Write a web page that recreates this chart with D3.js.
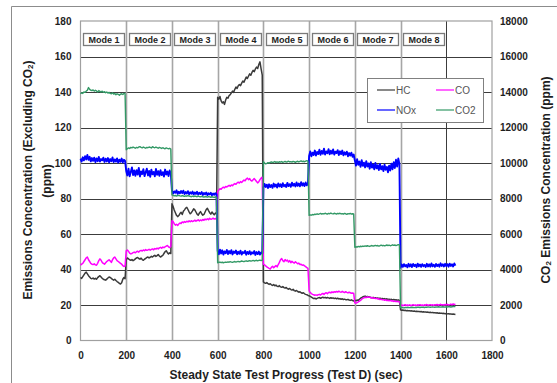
<!DOCTYPE html>
<html>
<head>
<meta charset="utf-8">
<script src="https://cdn.jsdelivr.net/npm/d3@7"></script>
<style>
  body { margin: 0; background: #fff; }
  svg { display: block; font-family: Arial, "Liberation Sans", sans-serif; }
</style>
</head>
<body>
<svg id="chart" width="557" height="383"></svg>
<script>
// Logged emissions, one sample every 5 s, Test D steady-state modes
const sampleStep = 5;

const modeNames = ["Mode 1", "Mode 2", "Mode 3", "Mode 4", "Mode 5", "Mode 6", "Mode 7", "Mode 8"];
const modeStarts = [0, 200, 400, 600, 800, 1000, 1200, 1400];

const xTicks = [0, 200, 400, 600, 800, 1000, 1200, 1400, 1600, 1800];
const leftTicks = [0, 20, 40, 60, 80, 100, 120, 140, 160, 180];
const rightTicks = [0, 2000, 4000, 6000, 8000, 10000, 12000, 14000, 16000, 18000];

// HC (ppm)
const hc = [
  35.5,35.0,36.0,37.0,38.0,38.5,37.5,36.5,35.8,35.0, 34.8,35.2,34.6,35.0,34.5,35.4,36.0,36.5,35.8,35.0,
  34.5,34.2,34.0,34.6,35.2,35.8,35.5,35.0,34.4,34.0, 34.5,33.8,33.2,32.8,32.2,31.8,32.5,34.5,35.5,34.8,
  45.5,46.5,46.0,45.5,45.2,45.6,45.0,45.4,46.0,46.5, 46.8,46.2,45.8,46.4,45.6,45.2,45.8,46.2,46.8,47.0,
  46.5,46.9,47.4,47.0,47.6,48.0,47.4,47.8,48.4,47.6, 47.0,47.5,48.0,49.0,50.0,50.6,49.5,48.8,49.4,49.0,
  77.0,75.5,73.5,72.0,70.5,69.8,70.4,71.5,72.2,71.0, 72.8,73.6,74.6,75.0,73.8,72.5,71.4,72.0,73.0,74.2,
  73.6,72.4,71.2,70.6,71.8,72.6,71.4,70.6,71.0,72.4, 73.8,74.5,73.2,72.0,71.2,72.4,71.6,70.8,71.8,71.4,
  137.0,136.0,137.5,135.0,133.8,134.5,133.0,135.5,137.0,136.5, 138.0,138.5,139.5,140.5,139.8,141.5,142.8,142.0,143.5,144.2,
  143.6,145.0,146.2,145.5,147.0,148.4,147.6,149.0,150.2,149.4, 151.0,152.2,151.5,153.0,154.0,153.2,155.5,157.0,153.0,149.5,
  33.0,32.5,32.2,32.6,32.0,31.6,32.0,31.4,31.0,31.5, 30.8,31.2,30.6,30.4,30.9,30.2,30.0,30.4,29.8,29.5,
  29.9,29.2,28.9,29.3,28.7,28.4,28.8,28.1,27.8,28.2, 27.6,27.2,27.5,26.9,26.6,26.9,26.3,26.0,25.8,25.4,
  25.2,24.8,24.4,24.0,23.6,23.8,23.4,23.7,24.0,24.2, 23.8,24.1,24.4,24.0,24.3,23.9,24.2,24.0,23.7,24.1,
  23.8,24.0,23.6,23.9,23.5,23.8,23.4,23.6,23.2,23.5, 23.1,23.3,23.0,22.9,23.2,22.8,22.6,22.9,22.5,22.3,
  22.6,22.4,22.8,22.6,23.2,23.8,24.2,24.6,24.8,25.0, 24.6,24.8,24.4,24.6,24.2,24.0,24.3,23.9,24.1,23.8,
  24.0,23.6,23.9,23.5,23.7,23.4,23.6,23.2,23.5,23.1, 23.3,23.0,23.2,22.9,23.1,22.8,23.0,22.7,22.9,22.6,
  17.3,17.0,17.2,16.9,17.0,16.8,16.9,16.7,16.8,16.6, 16.7,16.5,16.6,16.4,16.5,16.3,16.4,16.2,16.3,16.1,
  16.2,16.0,16.1,15.9,16.0,15.8,15.9,15.7,15.8,15.6, 15.7,15.5,15.6,15.4,15.5,15.3,15.4,15.2,15.3,15.1,
  15.2,15.0,15.1,14.9,15.0,14.8,14.9,14.8,14.7
];

// CO (ppm)
const co = [
  42.5,43.0,43.5,44.5,45.5,46.5,47.0,45.5,44.5,43.5, 43.0,42.8,43.2,42.6,42.4,43.5,45.0,46.0,45.2,44.0,
  43.4,43.0,43.8,44.5,45.0,45.5,44.8,44.0,45.5,46.5, 47.0,46.0,45.0,44.5,44.0,43.5,43.0,42.2,41.7,42.0,
  50.5,51.0,50.2,49.2,48.8,49.0,49.5,49.8,49.4,50.0, 50.3,49.8,50.5,50.8,50.4,51.0,50.6,51.2,50.8,51.0,
  51.4,50.9,51.3,51.6,51.1,51.8,51.5,52.0,51.6,52.2, 52.5,52.0,52.6,52.3,52.8,53.2,53.5,52.8,52.4,53.0,
  67.5,67.0,65.8,65.0,65.5,64.8,65.6,66.2,65.9,66.8, 66.4,67.0,66.6,67.2,66.8,67.4,66.9,67.5,67.0,67.3,
  67.8,67.2,67.6,68.0,67.4,67.9,67.5,68.2,67.7,68.4, 68.0,68.6,68.1,68.8,68.3,68.5,68.9,68.4,68.7,68.2,
  84.0,84.8,85.5,85.2,86.0,86.4,86.0,86.8,86.5,87.0, 87.4,86.9,87.6,87.2,88.0,88.4,88.0,88.8,89.2,88.7,
  89.5,89.0,89.8,90.4,90.0,91.0,91.5,90.6,91.2,90.2, 89.8,90.5,91.2,90.4,89.6,88.8,89.5,90.6,91.5,92.0,
  43.0,42.6,42.0,41.5,41.0,40.6,40.3,41.2,41.8,41.0, 41.6,42.2,41.5,42.8,44.0,45.5,46.2,45.0,44.4,45.6,
  44.8,45.3,44.2,45.0,43.8,44.6,44.0,43.6,44.4,43.8, 43.2,43.6,42.8,43.0,42.4,42.6,42.0,41.6,41.0,40.6,
  28.0,27.0,26.4,26.0,25.8,25.5,25.7,25.4,25.8,26.0, 25.6,26.2,26.5,26.0,26.6,26.9,26.4,27.0,27.2,26.8,
  27.4,27.0,27.5,27.2,27.6,27.3,27.8,27.4,27.2,27.7, 27.3,27.0,27.5,27.1,26.8,27.2,26.9,26.6,26.8,26.5,
  21.2,21.0,21.4,21.8,22.2,22.6,23.2,23.8,24.0,24.4, 24.2,24.6,24.3,24.5,24.0,24.2,23.8,23.9,23.6,23.8,
  23.4,23.5,23.1,23.3,22.9,23.0,22.7,22.9,22.5,22.7, 22.4,22.6,22.2,22.4,22.0,22.2,21.9,22.1,21.8,22.0,
  19.8,20.0,19.6,19.9,20.2,19.7,20.0,19.8,20.1,19.6, 19.9,20.2,19.8,20.0,19.7,20.1,19.9,20.2,19.8,20.0,
  19.7,20.1,19.9,20.3,19.8,20.0,20.2,19.9,20.1,19.8, 20.2,20.0,20.3,19.9,20.1,20.4,20.0,20.2,19.9,20.3,
  20.1,20.4,20.0,20.2,20.5,20.1,20.6,20.3,20.4
];

// NOx (ppm)
const nox = [
  102.5,100.8,103.2,101.5,103.8,102.0,104.5,101.8,103.5,100.9, 102.8,101.2,103.0,100.5,102.6,101.0,103.4,100.8,102.2,101.5,
  103.0,100.6,102.4,100.9,102.8,100.4,102.2,101.0,103.1,100.5, 102.0,100.8,102.6,100.2,101.9,100.7,102.5,100.3,101.8,101.2,
  95.5,93.0,96.8,92.5,95.0,97.5,93.2,95.8,92.8,96.0, 93.5,97.2,92.4,95.2,93.8,96.5,92.6,94.8,96.8,93.0,
  95.5,92.2,96.2,93.6,95.0,92.5,96.6,93.4,95.4,92.8, 96.0,93.2,94.8,92.4,96.3,93.5,95.2,92.7,95.8,94.0,
  84.5,82.8,84.0,83.2,84.6,82.6,83.8,82.9,84.2,83.0, 84.4,82.5,83.6,82.8,84.1,82.4,83.5,82.7,83.9,82.3,
  83.4,82.6,83.8,82.2,83.2,82.5,83.6,82.0,83.1,82.4, 83.4,81.9,82.9,82.3,83.2,81.8,82.8,82.1,83.0,82.4,
  50.5,48.6,51.2,49.0,50.8,48.4,50.2,49.2,51.0,48.7, 50.4,49.1,50.9,48.5,50.1,49.3,50.7,48.6,50.0,48.9,
  50.6,48.4,49.8,49.2,50.5,48.3,49.9,48.8,50.3,48.5, 49.7,49.0,50.4,48.2,49.8,48.7,50.1,48.4,49.6,49.0,
  86.0,88.2,86.5,87.8,85.9,88.0,86.4,87.6,86.0,88.4, 86.7,87.9,86.2,88.5,86.8,88.0,86.4,88.6,86.9,87.7,
  86.5,88.8,87.0,88.1,86.6,88.9,87.2,88.3,86.8,89.0, 87.1,88.4,86.9,89.2,87.3,88.6,87.0,89.0,87.4,88.8,
  104.0,106.5,103.8,105.8,104.5,107.0,104.2,106.2,105.0,107.5, 104.6,106.8,105.2,108.0,104.8,106.5,105.5,107.8,104.9,106.9,
  105.3,107.6,104.7,106.4,105.6,107.2,104.5,106.6,105.0,107.0, 104.3,106.0,104.8,106.4,103.8,105.6,104.2,105.8,103.5,104.8,
  101.5,98.5,102.2,99.0,100.8,97.8,101.6,98.4,100.2,97.5, 101.0,98.0,99.8,96.8,100.5,97.4,99.2,96.5,100.0,97.0,
  98.8,96.0,99.5,96.4,98.2,95.5,99.0,96.2,97.8,94.8, 98.5,95.8,99.6,96.5,100.4,97.2,101.8,98.0,102.5,99.5,
  41.0,42.8,41.5,43.0,41.8,42.6,41.2,43.2,41.7,42.9, 41.4,43.1,41.9,42.7,41.3,43.3,41.8,42.8,41.5,43.0,
  41.9,42.6,41.4,43.2,41.7,42.9,41.6,43.4,41.8,42.7, 41.5,43.1,41.9,42.8,41.6,43.5,42.0,42.9,41.7,43.2,
  41.9,43.0,41.6,43.3,42.0,42.9,41.7,43.4,42.2
];

// CO2 (ppm, secondary axis)
const co2 = [
  13900,13950,13920,14000,13980,14050,14100,14250,14150,14100, 14080,14120,14050,14100,14060,14000,14080,14030,14000,14050,
  13980,14020,13960,14000,13940,13980,13920,13900,13960,13880, 13920,13850,13900,13870,13820,13880,13900,13860,13920,13900,
  10750,10800,10850,10820,10880,10850,10900,10870,10830,10880, 10850,10900,10920,10880,10850,10900,10870,10830,10880,10860,
  10900,10880,10850,10920,10880,10860,10900,10870,10830,10880, 10850,10820,10860,10830,10800,10850,10820,10800,10830,10780,
  8200,8180,8150,8170,8140,8160,8180,8150,8130,8160, 8140,8120,8150,8130,8160,8140,8120,8100,8130,8110,
  8140,8120,8100,8130,8110,8090,8120,8100,8080,8110, 8100,8080,8110,8090,8070,8100,8080,8060,8090,8080,
  4380,4400,4420,4390,4410,4380,4400,4420,4400,4430, 4410,4440,4420,4400,4430,4450,4420,4440,4460,4430,
  4450,4480,4460,4440,4470,4490,4460,4480,4500,4470, 4490,4510,4480,4500,4520,4490,4510,4530,4500,4520,
  10080,10000,9950,9980,10020,9990,10030,10060,10020,10050, 10080,10040,10060,10030,10070,10050,10080,10040,10060,10090,
  10050,10070,10100,10060,10080,10050,10090,10070,10040,10080, 10100,10060,10090,10120,10080,10100,10070,10110,10130,10100,
  7050,7080,7060,7100,7080,7120,7100,7140,7110,7130, 7160,7120,7150,7130,7170,7140,7120,7160,7140,7180,
  7150,7130,7170,7150,7120,7160,7140,7170,7130,7150, 7120,7160,7140,7110,7150,7130,7160,7120,7140,7130,
  5250,5280,5260,5300,5280,5310,5290,5320,5300,5330, 5310,5340,5320,5300,5330,5350,5320,5340,5360,5330,
  5350,5320,5340,5370,5340,5360,5330,5350,5380,5350, 5370,5340,5360,5390,5360,5380,5350,5370,5400,5380,
  1850,1860,1850,1840,1860,1850,1870,1860,1850,1860, 1870,1860,1850,1870,1860,1880,1870,1860,1870,1880,
  1870,1860,1880,1870,1890,1880,1870,1880,1890,1880, 1870,1890,1880,1900,1890,1880,1890,1900,1890,1880,
  1900,1890,1910,1900,1890,1900,1910,1920,1910
];

const series = [
  { name: "HC",  values: hc,  axis: "left",  color: "#3a3a3a", width: 1.5 },
  { name: "CO",  values: co,  axis: "left",  color: "#ff00ff", width: 1.5 },
  { name: "NOx", values: nox, axis: "left",  color: "#0000ff", width: 1.9 },
  { name: "CO2", values: co2, axis: "right", color: "#339966", width: 1.4 }
];

const svg = d3.select("#chart");
const W = 557, H = 383;
svg.append("rect").attr("width", W).attr("height", H).attr("fill", "#fff");

const x = d3.scaleLinear().domain([0, 1800]).range([80.5, 492]);
const yL = d3.scaleLinear().domain([0, 180]).range([340.5, 21]);
const yR = d3.scaleLinear().domain([0, 18000]).range([340.5, 21]);
const crisp = v => Math.round(v) + 0.5;

// outer chart frame (left and top edges)
svg.append("path")
  .attr("d", `M11.5,${H} V6.5 H${W}`)
  .attr("fill", "none").attr("stroke", "#8c8c8c").attr("stroke-width", 1);

const grid = svg.append("g");
// horizontal gridlines
grid.selectAll("line.h").data(leftTicks.filter(v => v > 0 && v < 180)).join("line")
  .attr("x1", x(0)).attr("x2", x(1800))
  .attr("y1", d => crisp(yL(d))).attr("y2", d => crisp(yL(d)))
  .attr("stroke", "#3c3c3c").attr("stroke-width", 1);
// vertical gridlines
grid.selectAll("line.v").data(xTicks.filter(v => v > 0 && v < 1800)).join("line")
  .attr("x1", d => crisp(x(d))).attr("x2", d => crisp(x(d)))
  .attr("y1", yL(180)).attr("y2", yL(0))
  .attr("stroke", "#3c3c3c").attr("stroke-width", 1);
// mode dividers
grid.selectAll("line.m").data(modeStarts.filter(v => v > 0)).join("line")
  .attr("x1", d => crisp(x(d))).attr("x2", d => crisp(x(d)))
  .attr("y1", yL(180)).attr("y2", yL(0))
  .attr("stroke", "#a6a6a6").attr("stroke-width", 1.6);
// plot border
grid.append("rect")
  .attr("x", x(0)).attr("y", yL(180))
  .attr("width", x(1800) - x(0)).attr("height", yL(0) - yL(180))
  .attr("fill", "none").attr("stroke", "#a0a0a0").attr("stroke-width", 1.2);

// mode labels
const modeG = svg.append("g");
modeNames.forEach((name, i) => {
  const x0 = x(modeStarts[i]) + 2.5;
  modeG.append("rect")
    .attr("x", Math.round(x0) + 0.5).attr("y", 33.5)
    .attr("width", 41).attr("height", 12)
    .attr("fill", "#fff").attr("stroke", "#7a7a7a").attr("stroke-width", 1.3);
  modeG.append("text")
    .attr("x", Math.round(x0) + 21).attr("y", 42.8)
    .attr("text-anchor", "middle")
    .attr("font-size", 9).attr("font-weight", "bold").attr("fill", "#222")
    .text(name);
});

// series lines
const lineG = svg.append("g");
series.forEach(s => {
  const y = s.axis === "left" ? yL : yR;
  const line = d3.line()
    .x((d, i) => x(i * sampleStep))
    .y(d => y(d));
  lineG.append("path")
    .datum(s.values)
    .attr("d", line)
    .attr("fill", "none")
    .attr("stroke", s.color)
    .attr("stroke-width", s.width)
    .attr("stroke-linejoin", "round");
});

// legend
const legend = svg.append("g");
legend.append("rect")
  .attr("x", 367.5).attr("y", 78.5).attr("width", 116).attr("height", 44)
  .attr("fill", "#fff").attr("stroke", "#808080").attr("stroke-width", 1);
const legPos = [[377, 90], [436, 90], [377, 110], [436, 110]];
series.forEach((s, i) => {
  const [lx, ly] = legPos[i];
  legend.append("line")
    .attr("x1", lx).attr("x2", lx + 18).attr("y1", ly).attr("y2", ly)
    .attr("stroke", s.color).attr("stroke-width", 1.2);
  legend.append("text")
    .attr("x", lx + 19).attr("y", ly + 3.6)
    .attr("font-size", 10).attr("fill", "#555")
    .text(s.name);
});

// axes
function styleAxis(g) {
  g.select(".domain").remove();
  g.selectAll("text")
    .attr("font-size", 10).attr("font-weight", "bold").attr("fill", "#1e1e1e")
    .attr("font-family", "Arial, 'Liberation Sans', sans-serif");
}
svg.append("g").attr("transform", `translate(${x(0)},0)`)
  .call(d3.axisLeft(yL).tickValues(leftTicks).tickSize(0).tickPadding(9).tickFormat(d3.format("d")))
  .call(styleAxis);
svg.append("g").attr("transform", `translate(${x(1800)},0)`)
  .call(d3.axisRight(yR).tickValues(rightTicks).tickSize(0).tickPadding(8).tickFormat(d3.format("d")))
  .call(styleAxis);
svg.append("g").attr("transform", `translate(0,${yL(0)})`)
  .call(d3.axisBottom(x).tickValues(xTicks).tickSize(0).tickPadding(11).tickFormat(d3.format("d")))
  .call(styleAxis);

// axis titles
const titleStyle = t => t.attr("font-size", 12).attr("font-weight", "bold").attr("fill", "#1e1e1e")
  .attr("text-anchor", "middle").attr("dominant-baseline", "central");

svg.append("text").call(titleStyle)
  .attr("x", 286).attr("y", 374.5)
  .text("Steady State Test Progress (Test D) (sec)");

const lt = svg.append("text").call(titleStyle)
  .attr("transform", "translate(28,180) rotate(-90)");
lt.append("tspan").text("Emissions Concentration (Excluding CO");
lt.append("tspan").attr("font-size", 8).attr("dy", 2).text("2");
lt.append("tspan").attr("dy", -2).text(")");

svg.append("text").call(titleStyle)
  .attr("transform", "translate(46.5,181) rotate(-90)")
  .text("(ppm)");

const rt = svg.append("text").call(titleStyle)
  .attr("transform", "translate(546,180) rotate(-90)");
rt.append("tspan").text("CO");
rt.append("tspan").attr("font-size", 8).attr("dy", 2).text("2");
rt.append("tspan").attr("dy", -2).text(" Emissions Concentration (ppm)");
</script>
</body>
</html>
